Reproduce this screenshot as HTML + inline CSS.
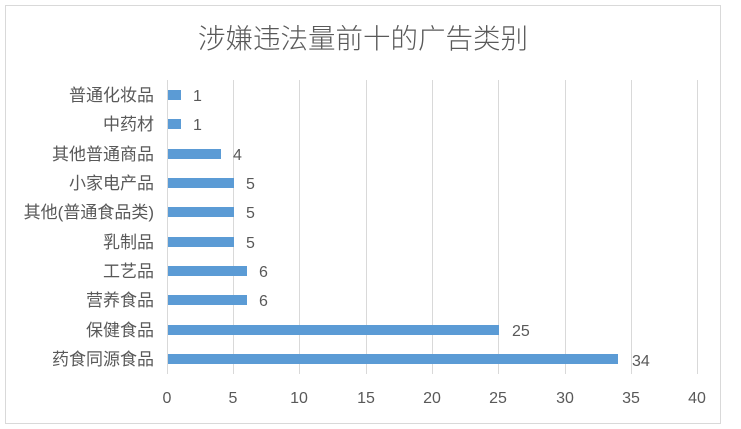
<!DOCTYPE html>
<html><head><meta charset="utf-8"><style>
html,body{margin:0;padding:0;background:#fff;width:741px;height:429px;overflow:hidden}
text{font-family:"Liberation Sans","Noto Sans CJK SC",sans-serif;fill:#595959}
</style></head><body>
<svg width="741" height="429" xmlns="http://www.w3.org/2000/svg">
<rect x="5.5" y="5.5" width="715" height="418" fill="#fff" stroke="#d9d9d9"/>
<text x="363" y="48" font-size="27.5" text-anchor="middle" font-weight="300">涉嫌违法量前十的广告类别</text>
<g stroke="#d9d9d9" stroke-width="1">
<line x1="233.5" y1="80" x2="233.5" y2="374"/>
<line x1="299.5" y1="80" x2="299.5" y2="374"/>
<line x1="366.5" y1="80" x2="366.5" y2="374"/>
<line x1="432.5" y1="80" x2="432.5" y2="374"/>
<line x1="498.5" y1="80" x2="498.5" y2="374"/>
<line x1="565.5" y1="80" x2="565.5" y2="374"/>
<line x1="631.5" y1="80" x2="631.5" y2="374"/>
<line x1="697.5" y1="80" x2="697.5" y2="374"/>
<line x1="167.5" y1="80" x2="167.5" y2="374"/>
</g>
<g fill="#5b9bd5">
<rect x="168" y="90" width="13" height="10"/>
<rect x="168" y="119" width="13" height="10"/>
<rect x="168" y="149" width="53" height="10"/>
<rect x="168" y="178" width="66" height="10"/>
<rect x="168" y="207" width="66" height="10"/>
<rect x="168" y="237" width="66" height="10"/>
<rect x="168" y="266" width="79" height="10"/>
<rect x="168" y="295" width="79" height="10"/>
<rect x="168" y="325" width="331" height="10"/>
<rect x="168" y="354" width="450" height="10"/>
</g>
<g font-size="17" text-anchor="end">
<text x="154" y="101">普通化妆品</text>
<text x="154" y="130">中药材</text>
<text x="154" y="160">其他普通商品</text>
<text x="154" y="189">小家电产品</text>
<text x="154" y="218">其他(普通食品类)</text>
<text x="154" y="248">乳制品</text>
<text x="154" y="277">工艺品</text>
<text x="154" y="306">营养食品</text>
<text x="154" y="336">保健食品</text>
<text x="154" y="365">药食同源食品</text>
</g>
<g font-size="16">
<text x="193" y="101">1</text>
<text x="193" y="130">1</text>
<text x="233" y="160">4</text>
<text x="246" y="189">5</text>
<text x="246" y="218">5</text>
<text x="246" y="248">5</text>
<text x="259" y="277">6</text>
<text x="259" y="306">6</text>
<text x="512" y="336">25</text>
<text x="632" y="366">34</text>
</g>
<g font-size="16" text-anchor="middle">
<text x="167" y="403">0</text>
<text x="233" y="403">5</text>
<text x="299" y="403">10</text>
<text x="366" y="403">15</text>
<text x="432" y="403">20</text>
<text x="498" y="403">25</text>
<text x="565" y="403">30</text>
<text x="631" y="403">35</text>
<text x="697" y="403">40</text>
</g>
</svg>
</body></html>
